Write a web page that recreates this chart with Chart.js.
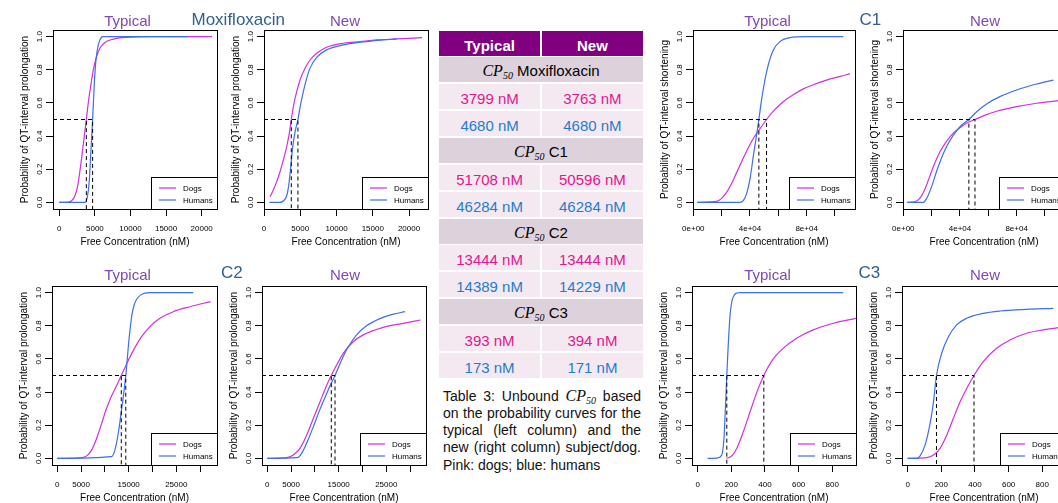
<!DOCTYPE html>
<html lang="en">
<head>
<meta charset="UTF-8">
<title>CP50 probability curves</title>
<script src="https://cdn.jsdelivr.net/npm/chart.js"></script>
<style>
  body { margin: 0; background: #fff; }
  #fig { position: relative; width: 1058px; height: 503px; overflow: hidden; font-family: "Liberation Sans", Arial, sans-serif; }
  #fig canvas { position: absolute; }
  .lbl { position: absolute; white-space: nowrap; line-height: 1; }
  #tbl { position: absolute; left: 439px; top: 30.5px; width: 204px; display: grid;
         grid-template-columns: 1fr 1fr; column-gap: 1.6px; row-gap: 1.87px; grid-auto-rows: 25px; }
  #tbl div { text-align: center; overflow: hidden; font-size: 15px; white-space: nowrap; }
  #tbl .hd { background: #800080; color: #fff; font-weight: bold; line-height: 30px; }
  #tbl .sec { grid-column: 1 / 3; background: #ddd2db; color: #000; line-height: 28px; }
  #tbl .dg { background: #f4e9f1; color: #e0178d; line-height: 30px; }
  #tbl .hm { background: #f4e9f1; color: #1f7ccb; line-height: 30px; }
  .cp { font-family: "Liberation Serif", "Times New Roman", serif; font-style: italic; font-size: 16px; }
  .cp sub { font-size: 10px; vertical-align: baseline; position: relative; top: 3px; line-height: 0; }
  #cap { position: absolute; left: 443px; top: 386.5px; width: 198px; font-size: 14px; line-height: 17.3px; color: #111; }
  #cap .j { text-align: justify; text-align-last: justify; }
</style>
</head>
<body>
<div id="fig">
  <div id="tbl"></div>
  <div id="cap">
    <div class="j">Table 3: Unbound <span class="cp">CP<sub>50</sub></span> based</div>
    <div class="j">on the probability curves for the</div>
    <div class="j">typical (left column) and the</div>
    <div class="j">new (right column) subject/dog.</div>
    <div>Pink: dogs; blue: humans</div>
  </div>
</div>
<script>
// ---- data ----
const yTicks = [0, 0.2, 0.4, 0.6, 0.8, 1.0];
const yTickLabels = ['0.0', '0.2', '0.4', '0.6', '0.8', '1.0'];

const moxiTicks = [0, 5000, 10000, 15000, 20000];
const moxiTickLabels = ['0', '5000', '10000', '15000', '20000'];
const c1Ticks = [0, 20000, 40000, 60000, 80000, 100000];
const c1TickLabels = ['0e+00', '', '4e+04', '', '8e+04', ''];
const c2Ticks = [0, 5000, 10000, 15000, 20000, 25000, 30000];
const c2TickLabels = ['0', '5000', '', '15000', '', '25000', ''];
const c3Ticks = [0, 200, 400, 600, 800];
const c3TickLabels = ['0', '200', '400', '600', '800'];

// CP50 table (nM)
const tableLabels = ['Moxifloxacin', 'C1', 'C2', 'C3'];
const cpTypicalDogs = [3799, 51708, 13444, 393];
const cpNewDogs = [3763, 50596, 13444, 394];
const cpTypicalHumans = [4680, 46284, 14389, 173];
const cpNewHumans = [4680, 46284, 14229, 171];

// probability curves [concentration, probability]
const moxiTypicalDogs = [[0,0],[1260,0.002],[1730,0.01],[2200,0.04],[2580,0.10],[2900,0.19],[3230,0.30],[3510,0.40],[3800,0.50],[4070,0.60],[4400,0.70],[4780,0.80],[5240,0.88],[5710,0.93],[6410,0.965],[7590,0.985],[9460,0.996],[12700,1.0],[21450,1.0]];
const moxiTypicalHumans = [[0,0],[3600,0],[3930,0.03],[4210,0.13],[4450,0.32],[4680,0.50],[4920,0.72],[5150,0.86],[5480,0.95],[5850,0.993],[6200,1.0],[18100,1.0]];
const moxiNewDogs = [[830,0.034],[1290,0.074],[1750,0.125],[2210,0.185],[2670,0.256],[3130,0.336],[3490,0.416],[3763,0.50],[4140,0.598],[4510,0.668],[4970,0.738],[5660,0.809],[6350,0.859],[7270,0.90],[8640,0.936],[10940,0.96],[13240,0.97],[15540,0.98],[18300,0.986],[21790,0.994]];
const moxiNewHumans = [[740,0],[2200,0],[2700,0.01],[3130,0.04],[3400,0.10],[3680,0.21],[3950,0.33],[4300,0.43],[4680,0.50],[5000,0.58],[5430,0.67],[5890,0.75],[6350,0.81],[7270,0.875],[8640,0.92],[10940,0.95],[13240,0.966],[16460,0.98],[18300,0.986]];

const c1TypicalDogs = [[2800,0],[16500,0.006],[20000,0.024],[23500,0.06],[27100,0.115],[30600,0.18],[34100,0.245],[37700,0.31],[42400,0.385],[47100,0.445],[51708,0.50],[56500,0.55],[62400,0.60],[70600,0.65],[77700,0.685],[84700,0.71],[94100,0.738],[103500,0.76],[110600,0.775]];
const c1TypicalHumans = [[2800,0],[32900,0],[35300,0.01],[37700,0.054],[40000,0.14],[42400,0.28],[44900,0.42],[46284,0.50],[48200,0.62],[50600,0.74],[52900,0.829],[56500,0.92],[61200,0.97],[68200,0.994],[80000,1.0],[105900,1.0]];
const c1NewDogs = [[2800,0],[8200,0.004],[11800,0.025],[15300,0.08],[18800,0.16],[22400,0.24],[25900,0.305],[30600,0.37],[35300,0.418],[41200,0.458],[45900,0.483],[50596,0.50],[56500,0.522],[65900,0.55],[80000,0.578],[94100,0.598],[111000,0.615]];
const c1NewHumans = [[2800,0],[14100,0],[16500,0.024],[20000,0.095],[24000,0.20],[29400,0.316],[35300,0.406],[41200,0.467],[46284,0.50],[51800,0.547],[58800,0.594],[68200,0.638],[80000,0.678],[94100,0.714],[105900,0.738]];

const c2TypicalDogs = [[0,0],[4760,0.003],[6160,0.015],[7210,0.05],[8260,0.12],[9310,0.21],[10200,0.29],[11300,0.37],[12400,0.435],[13444,0.50],[14560,0.57],[15960,0.65],[17710,0.734],[19460,0.795],[21560,0.845],[24360,0.885],[27860,0.915],[32200,0.946]];
const c2TypicalHumans = [[0,0],[11400,0.01],[12100,0.05],[12800,0.15],[13300,0.25],[13900,0.38],[14389,0.50],[14700,0.60],[15000,0.70],[15300,0.78],[15700,0.87],[16200,0.93],[16800,0.965],[17500,0.985],[18400,0.997],[19500,1.0],[28560,1.0]];
const c2NewDogs = [[0,0],[4060,0.004],[5460,0.02],[6860,0.06],[8260,0.14],[9660,0.24],[11060,0.34],[12460,0.44],[13444,0.50],[14560,0.563],[15960,0.634],[18060,0.704],[20160,0.745],[24360,0.79],[28560,0.815],[32200,0.835]];
const c2NewHumans = [[0,0],[6300,0.004],[7210,0.03],[8400,0.10],[9660,0.19],[10920,0.285],[12460,0.39],[13300,0.445],[14229,0.50],[15260,0.57],[16660,0.655],[18760,0.745],[20860,0.80],[23660,0.843],[26460,0.87],[28910,0.885]];

const c3TypicalDogs = [[172,0],[202,0.014],[232,0.06],[271,0.16],[311,0.28],[350,0.395],[393,0.50],[449,0.60],[509,0.665],[588,0.725],[687,0.775],[806,0.815],[941,0.845]];
const c3TypicalHumans = [[59,0],[113,0.002],[143,0.02],[156,0.12],[162,0.24],[168,0.38],[173,0.50],[178,0.61],[184,0.73],[192,0.86],[200,0.93],[208,0.965],[220,0.99],[235,0.998],[251,1.0],[865,1.0]];
const c3NewDogs = [[0,0],[113,0.004],[162,0.026],[192,0.06],[232,0.14],[271,0.24],[311,0.34],[350,0.42],[394,0.50],[449,0.584],[529,0.664],[608,0.714],[707,0.755],[806,0.775],[941,0.795]];
const c3NewHumans = [[0,0],[53,0],[73,0.014],[103,0.08],[133,0.21],[152,0.33],[171,0.50],[202,0.634],[242,0.734],[291,0.805],[350,0.845],[449,0.875],[548,0.889],[707,0.899],[865,0.905]];

// ---- styles ----
const DOG = '#d12fe0';
const HUM = '#3c6ef0';
const TITLE = '#8048b8';
const DRUG = '#2e6190';
const PROLONG = 'Probability of QT-interval prolongation';
const SHORTEN = 'Probability of QT-interval shortening';
const YW = 53, PT = 14, PR = 16, XH = 44;
const YMIN = -0.04, YMAX = 1.04;

Chart.defaults.font.family = '"Liberation Sans", Arial, sans-serif';
Chart.defaults.color = '#000';

const fig = document.getElementById('fig');

// frame + R style legend box in the bottom right corner
const frameLegend = {
  id: 'frameLegend',
  afterDraw(chart) {
    const {ctx, chartArea: a} = chart;
    ctx.save();
    ctx.strokeStyle = '#000';
    ctx.lineWidth = 1;
    ctx.strokeRect(a.left + 0.5, a.top + 0.5, a.right - a.left, a.bottom - a.top);
    const lw = 66, lh = 32;
    const x0 = Math.round(a.right - lw), y0 = Math.round(a.bottom - lh);
    ctx.fillStyle = '#fff';
    ctx.fillRect(x0, y0, lw, lh);
    ctx.strokeRect(x0 + 0.5, y0 + 0.5, lw, lh);
    ctx.font = '8px "Liberation Sans", Arial, sans-serif';
    ctx.textBaseline = 'middle';
    chart.data.datasets.slice(0, 2).forEach((ds, i) => {
      const y = y0 + 11 + i * 12;
      ctx.strokeStyle = ds.borderColor;
      ctx.lineWidth = 1.2;
      ctx.beginPath();
      ctx.moveTo(x0 + 8, y);
      ctx.lineTo(x0 + 25, y);
      ctx.stroke();
      ctx.fillStyle = '#000';
      ctx.fillText(ds.label, x0 + 32, y + 0.5);
    });
    ctx.restore();
  }
};

function makePanel(p) {
  const [l, t, r, b] = p.box;
  const w = r - l + YW + PR, h = b - t + PT + XH;
  const cv = document.createElement('canvas');
  cv.width = w; cv.height = h;
  cv.style.left = (l - YW) + 'px';
  cv.style.top = (t - PT) + 'px';
  fig.appendChild(cv);

  const xy = arr => arr.map(d => ({x: d[0], y: d[1]}));
  const dash = cp => [{x: p.xmin, y: 0.5}, {x: cp, y: 0.5}, {x: cp, y: YMIN}];
  const curve = {showLine: true, pointRadius: 0, borderWidth: 1.2, cubicInterpolationMode: 'monotone'};
  const dashed = {showLine: true, pointRadius: 0, borderWidth: 1, borderColor: '#000', borderDash: [4, 3], order: 0};
  const tickGrid = {drawOnChartArea: false, drawTicks: true, tickLength: 7, color: '#000', lineWidth: 1};

  new Chart(cv, {
    type: 'scatter',
    data: {
      datasets: [
        {label: 'Dogs', data: xy(p.dogs), borderColor: DOG, order: 2, ...curve},
        {label: 'Humans', data: xy(p.humans), borderColor: HUM, order: 1, ...curve},
        {label: 'cp dogs', data: dash(p.cpDog), ...dashed},
        {label: 'cp humans', data: dash(p.cpHum), ...dashed}
      ]
    },
    options: {
      responsive: false,
      animation: false,
      devicePixelRatio: 1,
      events: [],
      layout: {padding: {left: 0, top: PT, right: PR, bottom: 0}},
      plugins: {legend: {display: false}, tooltip: {enabled: false}},
      scales: {
        x: {
          type: 'linear', min: p.xmin, max: p.xmax,
          afterBuildTicks: s => { s.ticks = p.xTicks.map(v => ({value: v})); },
          afterFit: s => { s.height = XH; },
          grid: tickGrid,
          border: {display: false},
          ticks: {autoSkip: false, maxRotation: 0, padding: 8, font: {size: 8},
                  callback: (v, i) => p.xLabels[i]},
          title: {display: true, text: 'Free Concentration (nM)', font: {size: 10}, padding: {top: 0, bottom: 5}}
        },
        y: {
          type: 'linear', min: YMIN, max: YMAX,
          afterBuildTicks: s => { s.ticks = yTicks.map(v => ({value: v})); },
          afterFit: s => { s.width = YW; },
          grid: tickGrid,
          border: {display: false},
          ticks: {autoSkip: false, minRotation: 90, maxRotation: 90, crossAlign: 'center', padding: 0.5,
                  font: {size: 8}, callback: (v, i) => yTickLabels[i]},
          title: {display: true, text: p.yTitle, font: {size: 10}, padding: {top: 19, bottom: 0}}
        }
      }
    },
    plugins: [frameLegend]
  });
}

const panels = [
  {box: [53, 30, 217, 209], xmin: -885, xmax: 22150, xTicks: moxiTicks, xLabels: moxiTickLabels,
   dogs: moxiTypicalDogs, humans: moxiTypicalHumans, cpDog: cpTypicalDogs[0], cpHum: cpTypicalHumans[0], yTitle: PROLONG},
  {box: [264, 30, 428, 209], xmin: 0, xmax: 22616, xTicks: moxiTicks, xLabels: moxiTickLabels,
   dogs: moxiNewDogs, humans: moxiNewHumans, cpDog: cpNewDogs[0], cpHum: cpNewHumans[0], yTitle: PROLONG},
  {box: [693, 30, 855, 209], xmin: -212, xmax: 114144, xTicks: c1Ticks, xLabels: c1TickLabels,
   dogs: c1TypicalDogs, humans: c1TypicalHumans, cpDog: cpTypicalDogs[1], cpHum: cpTypicalHumans[1], yTitle: SHORTEN},
  {box: [903, 30, 1065, 209], xmin: -212, xmax: 114144, xTicks: c1Ticks, xLabels: c1TickLabels,
   dogs: c1NewDogs, humans: c1NewHumans, cpDog: cpNewDogs[1], cpHum: cpNewHumans[1], yTitle: SHORTEN},
  {box: [52, 286, 217, 465], xmin: -1114, xmax: 33553, xTicks: c2Ticks, xLabels: c2TickLabels,
   dogs: c2TypicalDogs, humans: c2TypicalHumans, cpDog: cpTypicalDogs[2], cpHum: cpTypicalHumans[2], yTitle: PROLONG},
  {box: [262, 286, 426, 465], xmin: -1114, xmax: 33343, xTicks: c2Ticks, xLabels: c2TickLabels,
   dogs: c2NewDogs, humans: c2NewHumans, cpDog: cpNewDogs[2], cpHum: cpNewHumans[2], yTitle: PROLONG},
  {box: [692, 286, 856, 465], xmin: -33.9, xmax: 941, xTicks: c3Ticks, xLabels: c3TickLabels,
   dogs: c3TypicalDogs, humans: c3TypicalHumans, cpDog: cpTypicalDogs[3], cpHum: cpTypicalHumans[3], yTitle: PROLONG},
  {box: [902, 286, 1066, 465], xmin: -33.9, xmax: 941, xTicks: c3Ticks, xLabels: c3TickLabels,
   dogs: c3NewDogs, humans: c3NewHumans, cpDog: cpNewDogs[3], cpHum: cpNewHumans[3], yTitle: PROLONG}
];
panels.forEach(makePanel);

// titles: text, x, baseline, size, colour, centred?
function label(text, x, base, size, color, centre) {
  const d = document.createElement('div');
  d.className = 'lbl';
  d.textContent = text;
  d.style.fontSize = size + 'px';
  d.style.color = color;
  d.style.left = x + 'px';
  d.style.top = (base - 0.8465 * size) + 'px';
  if (centre) d.style.transform = 'translateX(-50%)';
  fig.appendChild(d);
}
label('Typical', 127.5, 26, 15, TITLE, true);
label('New', 345, 25.5, 15, TITLE, true);
label('Typical', 767.5, 26, 15, TITLE, true);
label('New', 985, 25.5, 15, TITLE, true);
label('Typical', 127.5, 280, 15, TITLE, true);
label('New', 345, 279.5, 15, TITLE, true);
label('Typical', 767.5, 280, 15, TITLE, true);
label('New', 985, 279.5, 15, TITLE, true);
label('Moxifloxacin', 191.5, 25, 17, DRUG, false);
label('C1', 859.5, 25, 17, DRUG, false);
label('C2', 221, 278.5, 17, DRUG, false);
label('C3', 858.5, 278.5, 17, DRUG, false);

// table of CP50 values
const tbl = document.getElementById('tbl');
function cell(html, cls) {
  const d = document.createElement('div');
  d.className = cls;
  d.innerHTML = html;
  tbl.appendChild(d);
}
cell('Typical', 'hd');
cell('New', 'hd');
tableLabels.forEach((lab, i) => {
  cell('<span class="cp">CP<sub>50</sub></span> ' + lab, 'sec');
  cell(cpTypicalDogs[i] + ' nM', 'dg');
  cell(cpNewDogs[i] + ' nM', 'dg');
  cell(cpTypicalHumans[i] + ' nM', 'hm');
  cell(cpNewHumans[i] + ' nM', 'hm');
});
</script>
</body>
</html>
